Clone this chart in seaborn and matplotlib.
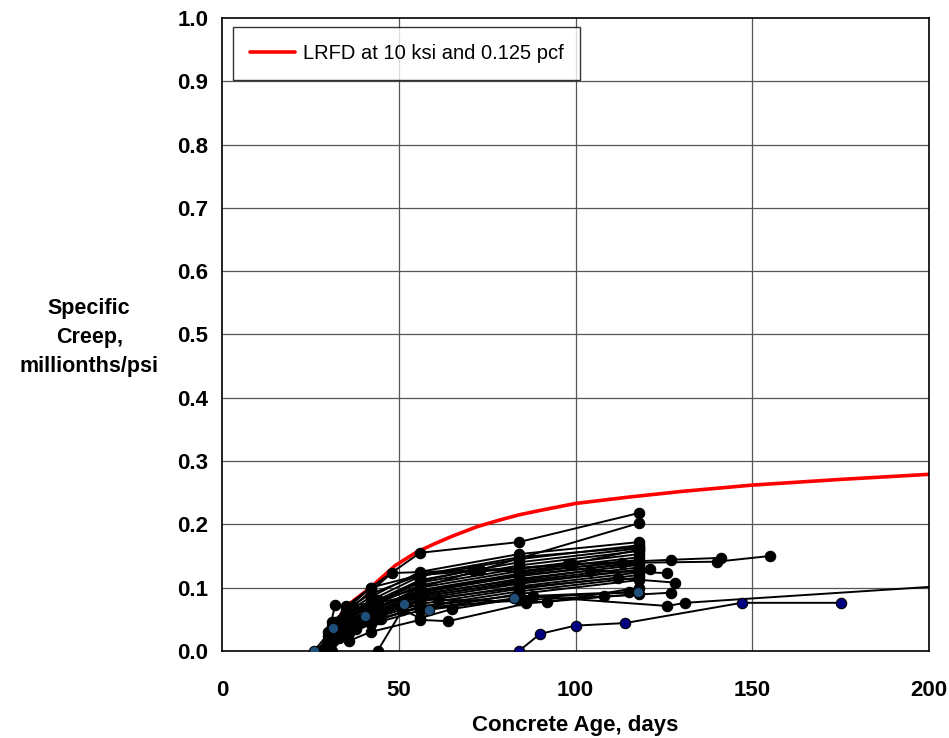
import matplotlib
matplotlib.use("Agg")
import matplotlib.pyplot as plt
import seaborn as sns
import pandas as pd

# ---- data ----
lrfd_age = [28, 30, 31.5, 35, 42, 49, 55, 60, 65, 72, 78, 84, 90, 100, 115, 130, 150, 175, 200]
lrfd_creep = [0, 0.02, 0.038, 0.07, 0.10, 0.135, 0.156, 0.169, 0.181, 0.196, 0.206, 0.215, 0.222, 0.233, 0.243, 0.252, 0.262, 0.271, 0.279]

black_ages = [
    [29, 35, 42, 56, 84, 118],
    [28, 32, 37, 48, 73, 118],
    [28, 31, 35, 42, 56, 84, 118],
    [28, 31, 35, 42, 56, 84, 118],
    [29, 32, 36, 43, 56, 84, 118],
    [28, 30, 35, 42, 56, 84, 118],
    [27, 31, 35, 42, 56, 84, 118],
    [28, 32, 36, 44, 56, 84, 118],
    [29, 31, 35, 42, 56, 84, 118],
    [28, 31, 35, 42, 56, 84, 118],
    [28, 32, 35, 43, 56, 84, 118],
    [30, 33, 36, 42, 56, 84, 118],
    [28, 31, 35, 42, 56, 84, 118],
    [29, 32, 35, 42, 56, 84, 118],
    [28, 30, 35, 42, 56, 84, 118],
    [28, 31, 36, 42, 56, 84, 118],
    [31, 35, 42, 56, 84, 118],
    [28, 32, 36, 44, 56, 71, 84, 99, 127, 141],
    [28, 31, 35, 42, 56, 73, 84, 113, 140, 155],
    [29, 33, 37, 44, 56, 84, 104, 126],
    [30, 34, 38, 45, 56, 84, 112, 128],
    [28, 32, 36, 44, 56, 84, 108, 127],
    [28, 33, 38, 45, 56, 84, 126, 131, 230],
    [36, 42, 56, 64, 86, 118],
    [44, 51, 56, 65, 88, 115],
    [28, 31, 35, 44, 56, 61, 92, 118],
    [29, 32, 36, 42, 56, 98, 118],
    [28, 31, 35, 42, 56, 84, 118],
    [29, 32, 36, 42, 56, 84, 118],
    [28, 30, 34, 42, 56, 84, 121],
]
black_creep = [
    [0, 0.07, 0.10, 0.155, 0.172, 0.218],
    [0, 0.045, 0.07, 0.123, 0.128, 0.202],
    [0, 0.04, 0.06, 0.085, 0.125, 0.153, 0.172],
    [0, 0.035, 0.055, 0.08, 0.118, 0.145, 0.167],
    [0, 0.038, 0.055, 0.078, 0.112, 0.14, 0.162],
    [0, 0.03, 0.05, 0.072, 0.108, 0.135, 0.158],
    [0, 0.032, 0.048, 0.07, 0.104, 0.13, 0.153],
    [0, 0.034, 0.05, 0.068, 0.10, 0.126, 0.148],
    [0, 0.026, 0.044, 0.066, 0.096, 0.122, 0.144],
    [0, 0.03, 0.045, 0.064, 0.092, 0.118, 0.14],
    [0, 0.028, 0.04, 0.06, 0.088, 0.114, 0.136],
    [0, 0.03, 0.042, 0.058, 0.085, 0.11, 0.132],
    [0, 0.022, 0.036, 0.055, 0.082, 0.106, 0.128],
    [0, 0.02, 0.033, 0.052, 0.078, 0.102, 0.124],
    [0, 0.018, 0.03, 0.05, 0.074, 0.098, 0.12],
    [0, 0.016, 0.028, 0.046, 0.07, 0.094, 0.116],
    [0, 0.025, 0.042, 0.064, 0.09, 0.112],
    [0, 0.042, 0.06, 0.08, 0.11, 0.128, 0.13, 0.137, 0.144, 0.147],
    [0, 0.036, 0.055, 0.075, 0.10, 0.128, 0.125, 0.139, 0.141, 0.15],
    [0, 0.03, 0.045, 0.065, 0.09, 0.112, 0.127, 0.123],
    [0, 0.026, 0.04, 0.058, 0.08, 0.10, 0.115, 0.108],
    [0, 0.02, 0.034, 0.05, 0.068, 0.08, 0.086, 0.092],
    [0, 0.02, 0.035, 0.05, 0.07, 0.088, 0.071, 0.076, 0.112],
    [0.016, 0.03, 0.049, 0.047, 0.075, 0.09],
    [0, 0.065, 0.052, 0.066, 0.087, 0.093],
    [0, 0.035, 0.071, 0.076, 0.09, 0.081, 0.077, 0.10],
    [0, 0.073, 0.07, 0.10, 0.12, 0.137, 0.16],
    [0, 0.045, 0.065, 0.09, 0.12, 0.148, 0.164],
    [0, 0.03, 0.046, 0.066, 0.094, 0.12, 0.138],
    [0, 0.024, 0.04, 0.06, 0.086, 0.108, 0.13],
]

steel_age = [26, 31.4, 40.5, 51.6, 58.6, 82.6, 117.7]
steel_creep = [0, 0.036, 0.055, 0.074, 0.065, 0.083, 0.093]

navy_age = [84, 90, 100, 114, 147, 175]
navy_creep = [0, 0.027, 0.04, 0.044, 0.076, 0.076]

x_ticks = [0, 50, 100, 150, 200]
y_ticks = [0.0, 0.1, 0.2, 0.3, 0.4, 0.5, 0.6, 0.7, 0.8, 0.9, 1.0]

# ---- style ----
sns.set_style("white")
plt.rcParams["font.family"] = ["Liberation Sans", "DejaVu Sans"]
plt.rcParams["text.color"] = "black"
plt.rcParams["axes.labelcolor"] = "black"
plt.rcParams["xtick.color"] = "black"
plt.rcParams["ytick.color"] = "black"

fig = plt.figure(figsize=(9.49, 7.38), dpi=100)
ax = fig.add_axes([0.234, 0.118, 0.745, 0.8576])

grid_c = "#555555"
for xv in x_ticks[1:-1]:
    ax.axvline(xv, color=grid_c, lw=0.9, zorder=0)
for yv in y_ticks[1:-1]:
    ax.axhline(yv, color=grid_c, lw=0.9, zorder=0)

mk = dict(marker="o", markersize=7.5, markeredgecolor="black", markeredgewidth=0.8,
          linewidth=1.4, sort=False, legend=False, estimator=None)

for xs, ys in zip(black_ages, black_creep):
    df = pd.DataFrame({"age": xs, "creep": ys})
    sns.lineplot(data=df, x="age", y="creep", ax=ax, color="black",
                 markerfacecolor="black", zorder=3, **mk)

df = pd.DataFrame({"age": steel_age, "creep": steel_creep})
sns.lineplot(data=df, x="age", y="creep", ax=ax, color="black",
             markerfacecolor="#1f4e79", zorder=4, **mk)
df = pd.DataFrame({"age": navy_age, "creep": navy_creep})
sns.lineplot(data=df, x="age", y="creep", ax=ax, color="black",
             markerfacecolor="#000080", zorder=4, **mk)

df = pd.DataFrame({"age": lrfd_age, "creep": lrfd_creep})
sns.lineplot(data=df, x="age", y="creep", ax=ax, color="#ff0000", lw=2.6,
             sort=False, estimator=None, zorder=2, label="LRFD at 10 ksi and 0.125 pcf")

ax.set_xlim(0, 200)
ax.set_ylim(0, 1.0)
ax.set_xticks(x_ticks)
ax.set_yticks(y_ticks)
ax.set_xticklabels([str(v) for v in x_ticks])
ax.set_yticklabels([f"{v:.1f}" for v in y_ticks])
ax.tick_params(axis="x", length=0, pad=21, labelsize=16)
ax.tick_params(axis="y", length=6, width=1, direction="out", color="black", pad=4, labelsize=16)
for lab in ax.get_xticklabels() + ax.get_yticklabels():
    lab.set_fontweight("bold")
for s in ax.spines.values():
    s.set_color("black")
    s.set_linewidth(1.2)

ax.set_xlabel("Concrete Age, days", fontsize=16, fontweight="bold", labelpad=10)
ax.set_ylabel("Specific\nCreep,\nmillionths/psi", fontsize=15.5, fontweight="bold",
              rotation=0, ha="center", va="center", linespacing=1.5)
ax.yaxis.set_label_coords(-0.188, 0.495)

leg = ax.legend(loc="upper left", bbox_to_anchor=(0.0156, 0.986), borderaxespad=0,
                fontsize=14.5, frameon=True, fancybox=False, edgecolor="black",
                handlelength=2.2, borderpad=0.85, handletextpad=0.4)
leg.get_frame().set_linewidth(1.0)
leg.set_zorder(10)

fig.savefig("out.png", dpi=100)
